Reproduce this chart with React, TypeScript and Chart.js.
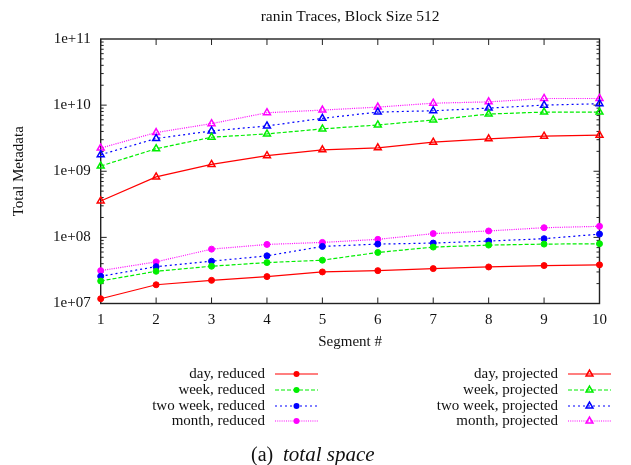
import React, { useEffect, useRef } from 'react';
import { Chart, registerables } from 'chart.js';

Chart.register(...registerables);

const FONT = "'Liberation Serif', 'Times New Roman', Times, serif";

const chartTitle = 'ranin Traces, Block Size 512';
const xAxisTitle = 'Segment #';
const yAxisTitle = 'Total Metadata';
const captionPrefix = '(a)';
const captionItalic = 'total space';

const segments = [1, 2, 3, 4, 5, 6, 7, 8, 9, 10];
const yTickExponents = [7, 8, 9, 10, 11];

const dayReduced = [1.18e7, 1.92e7, 2.24e7, 2.55e7, 3.0e7, 3.14e7, 3.37e7, 3.57e7, 3.75e7, 3.84e7];
const weekReduced = [2.19e7, 3.07e7, 3.66e7, 4.16e7, 4.52e7, 5.91e7, 7.13e7, 7.64e7, 7.91e7, 8.01e7];
const twoWeekReduced = [2.58e7, 3.61e7, 4.36e7, 5.26e7, 7.3e7, 7.91e7, 8.2e7, 8.8e7, 9.55e7, 1.12e8];
const monthReduced = [3.14e7, 4.26e7, 6.64e7, 7.82e7, 8.39e7, 9.33e7, 1.14e8, 1.25e8, 1.4e8, 1.47e8];
const dayProjected = [3.55e8, 8.22e8, 1.27e9, 1.72e9, 2.11e9, 2.26e9, 2.75e9, 3.09e9, 3.39e9, 3.51e9];
const weekProjected = [1.2e9, 2.19e9, 3.27e9, 3.67e9, 4.37e9, 5.01e9, 5.96e9, 7.33e9, 7.85e9, 7.85e9];
const twoWeekProjected = [1.78e9, 3.13e9, 4.07e9, 4.84e9, 6.31e9, 7.85e9, 8.22e9, 9.02e9, 1.0e10, 1.05e10];
const monthProjected = [2.24e9, 3.85e9, 5.25e9, 7.67e9, 8.41e9, 9.33e9, 1.07e10, 1.12e10, 1.26e10, 1.26e10];

const seriesLabels = [
  'day, reduced', 'week, reduced', 'two week, reduced', 'month, reduced',
  'day, projected', 'week, projected', 'two week, projected', 'month, projected',
];
const seriesValues = [
  dayReduced, weekReduced, twoWeekReduced, monthReduced,
  dayProjected, weekProjected, twoWeekProjected, monthProjected,
];
const seriesColors = ['#ff0000', '#00ee00', '#0000ff', '#ff00ff'];
const seriesDashes: number[][] = [[], [4, 2], [2, 3], [1, 1.2]];

function buildDatasets() {
  return seriesValues.map((vals, i) => {
    const k = i % 4;
    const projected = i >= 4;
    return {
      label: seriesLabels[i],
      data: vals.map((v, j) => ({ x: segments[j], y: v })),
      borderColor: seriesColors[k],
      backgroundColor: projected ? 'rgba(255,255,255,0)' : seriesColors[k],
      borderWidth: 1.2,
      borderDash: seriesDashes[k],
      pointStyle: projected ? 'triangle' : 'circle',
      pointRadius: projected ? 4 : 3,
      pointBorderWidth: projected ? 1.5 : 1,
      pointBorderColor: seriesColors[k],
      pointBackgroundColor: projected ? 'rgba(255,255,255,0)' : seriesColors[k],
      tension: 0,
      clip: false as any,
    };
  });
}

function drawMarker(ctx: CanvasRenderingContext2D, style: string, x: number, y: number, color: string) {
  ctx.save();
  ctx.setLineDash([]);
  ctx.strokeStyle = color;
  ctx.fillStyle = color;
  if (style === 'circle') {
    ctx.beginPath();
    ctx.arc(x, y, 3, 0, Math.PI * 2);
    ctx.fill();
  } else {
    const r = 4;
    ctx.lineWidth = 1.5;
    ctx.beginPath();
    ctx.moveTo(x, y - r);
    ctx.lineTo(x + r * 0.866, y + r * 0.5);
    ctx.lineTo(x - r * 0.866, y + r * 0.5);
    ctx.closePath();
    ctx.stroke();
  }
  ctx.restore();
}

const framePlugin = {
  id: 'gnuFrame',
  beforeDatasetsDraw(chart: any) {
    const { ctx, chartArea: a, scales } = chart;
    const xs = scales.x;
    const ys = scales.y;
    ctx.save();
    ctx.strokeStyle = '#222';
    ctx.lineWidth = 1;
    ctx.beginPath();
    for (let e = yTickExponents[0]; e < yTickExponents[yTickExponents.length - 1]; e++) {
      for (let m = 1; m <= 9; m++) {
        const y = ys.getPixelForValue(m * Math.pow(10, e));
        const len = m === 1 ? 6 : 3;
        ctx.moveTo(a.left, y);
        ctx.lineTo(a.left + len, y);
        ctx.moveTo(a.right, y);
        ctx.lineTo(a.right - len, y);
      }
    }
    for (const s of segments) {
      const x = xs.getPixelForValue(s);
      ctx.moveTo(x, a.bottom);
      ctx.lineTo(x, a.bottom - 6);
      ctx.moveTo(x, a.top);
      ctx.lineTo(x, a.top + 6);
    }
    ctx.stroke();
    ctx.lineWidth = 1.4;
    ctx.strokeStyle = '#222';
    ctx.strokeRect(a.left, a.top, a.right - a.left, a.bottom - a.top);
    ctx.restore();
  },
  afterDraw(chart: any) {
    const { ctx, chartArea: a } = chart;
    ctx.save();
    // title
    ctx.fillStyle = '#111';
    ctx.font = `15.5px ${FONT}`;
    ctx.textAlign = 'center';
    ctx.textBaseline = 'alphabetic';
    ctx.fillText(chartTitle, (a.left + a.right) / 2, 20.5);

    // legend
    ctx.textBaseline = 'middle';
    const rows = [374, 390, 406, 421];
    const cols = [
      { textRight: 265, lineL: 275, lineR: 318 },
      { textRight: 558, lineL: 568, lineR: 611 },
    ];
    ctx.font = `15px ${FONT}`;
    ctx.textAlign = 'right';
    chart.data.datasets.forEach((ds: any, i: number) => {
      const col = cols[i < 4 ? 0 : 1];
      const y = rows[i % 4];
      ctx.fillStyle = '#111';
      ctx.fillText(ds.label, col.textRight, y);
      ctx.save();
      ctx.strokeStyle = ds.borderColor;
      ctx.lineWidth = ds.borderWidth;
      ctx.setLineDash(ds.borderDash);
      ctx.beginPath();
      ctx.moveTo(col.lineL, y);
      ctx.lineTo(col.lineR, y);
      ctx.stroke();
      ctx.restore();
      drawMarker(ctx, ds.pointStyle, (col.lineL + col.lineR) / 2, y, ds.borderColor);
    });

    // caption
    ctx.textAlign = 'left';
    ctx.textBaseline = 'alphabetic';
    ctx.fillStyle = '#111';
    ctx.font = `20px ${FONT}`;
    ctx.fillText(captionPrefix, 251, 461);
    ctx.font = `italic 21px ${FONT}`;
    ctx.fillText(captionItalic, 283, 461);
    ctx.restore();
  },
};

export default function App() {
  const ref = useRef<HTMLCanvasElement>(null);
  useEffect(() => {
    document.body.style.margin = '0';
    const canvas = ref.current!;
    const chart = new Chart(canvas, {
      type: 'line',
      data: { datasets: buildDatasets() as any },
      options: {
        animation: false,
        responsive: false,
        devicePixelRatio: 1,
        layout: { padding: { left: 0, top: 39, right: 31.5, bottom: 111.5 } },
        plugins: {
          legend: { display: false },
          title: { display: false },
          tooltip: { enabled: false },
        },
        scales: {
          x: {
            type: 'linear',
            min: 1,
            max: 10,
            grid: { display: false, drawTicks: false },
            border: { display: false },
            afterBuildTicks: (s: any) => {
              s.ticks = segments.map((v) => ({ value: v }));
            },
            afterFit: (s: any) => {
              s.height = 50;
            },
            ticks: {
              padding: 8,
              color: '#111',
              font: { family: FONT, size: 15 },
              callback: (v: any) => String(v),
            },
            title: {
              display: true,
              text: xAxisTitle,
              color: '#111',
              font: { family: FONT, size: 15 },
              padding: { top: 0, bottom: 2.5 },
            },
          },
          y: {
            type: 'logarithmic',
            min: Math.pow(10, yTickExponents[0]),
            max: Math.pow(10, yTickExponents[yTickExponents.length - 1]),
            grid: { display: false, drawTicks: false },
            border: { display: false },
            afterBuildTicks: (s: any) => {
              s.ticks = yTickExponents.map((e) => ({ value: Math.pow(10, e) }));
            },
            afterFit: (s: any) => {
              s.width = 100.7;
            },
            ticks: {
              padding: 10,
              color: '#111',
              font: { family: FONT, size: 15 },
              callback: (v: any) => {
                const e = Math.round(Math.log10(Number(v)));
                return '1e+' + String(e).padStart(2, '0');
              },
            },
            title: {
              display: true,
              text: yAxisTitle,
              color: '#111',
              font: { family: FONT, size: 15 },
              padding: { top: 10, bottom: 0 },
            },
          },
        },
      },
      plugins: [framePlugin],
    });
    return () => chart.destroy();
  }, []);
  return (
    <div style={{ width: 631, height: 465, position: 'relative', background: '#fff' }}>
      <canvas ref={ref} width={631} height={465} style={{ width: 631, height: 465, display: 'block' }} />
    </div>
  );
}
